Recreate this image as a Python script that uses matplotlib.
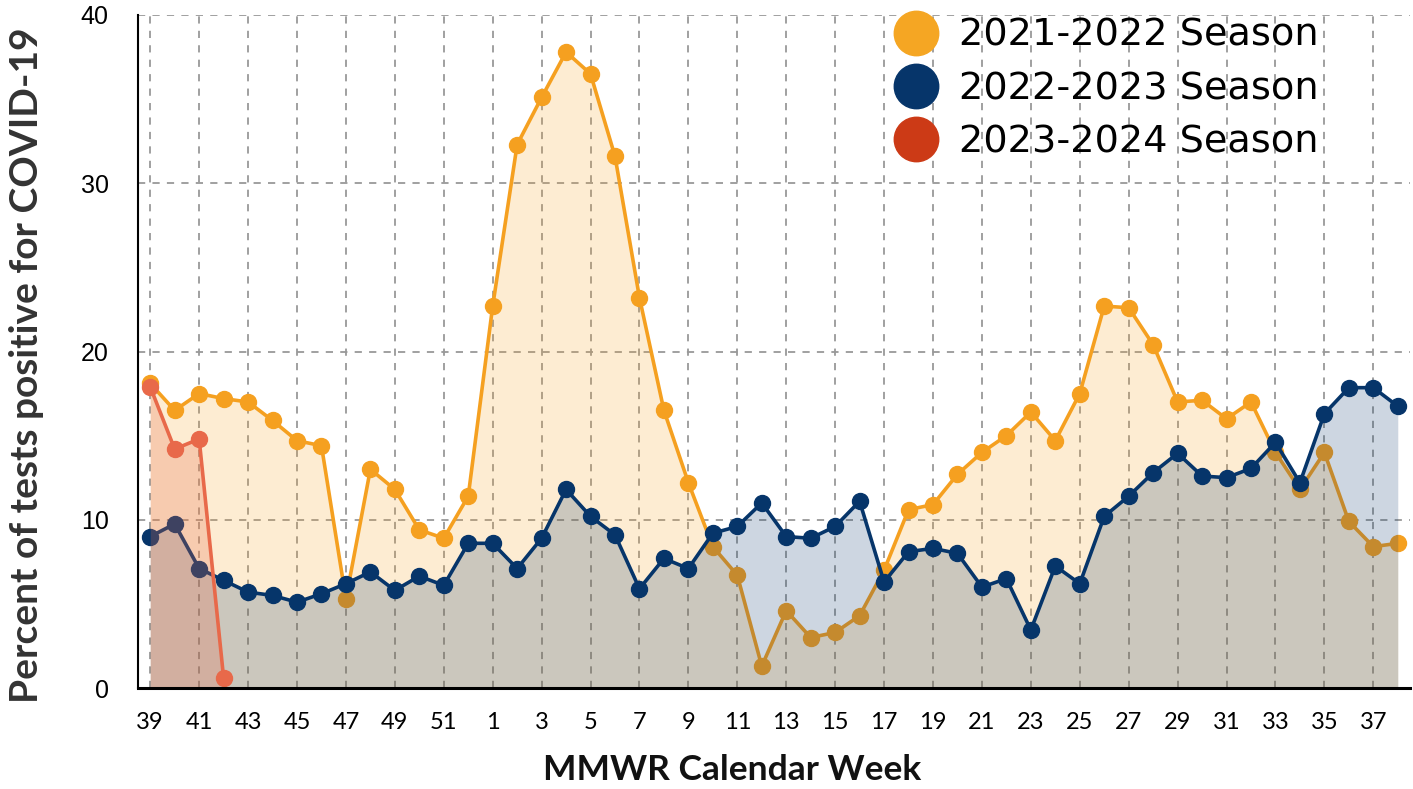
import matplotlib
matplotlib.use("Agg")
import matplotlib.pyplot as plt
from matplotlib.lines import Line2D
import numpy as np

weeks = [39, 40, 41, 42, 43, 44, 45, 46, 47, 48, 49, 50, 51, 52] + list(range(1, 39))
week_labels = [str(w) for w in weeks]

season_2122 = [18.1, 16.5, 17.5, 17.2, 17.0, 15.9, 14.7, 14.4, 5.3, 13.0, 11.8, 9.4, 8.9, 11.4,
               22.7, 32.3, 35.1, 37.8, 36.5, 31.6, 23.2, 16.5, 12.2, 8.4, 6.7, 1.3, 4.6, 3.0,
               3.3, 4.3, 7.0, 10.6, 10.9, 12.7, 14.0, 15.0, 16.4, 14.7, 17.5, 22.7, 22.6, 20.4,
               17.0, 17.1, 16.0, 17.0, 14.0, 11.8, 14.0, 9.9, 8.4, 8.6]
season_2223 = [9.0, 9.75, 7.1, 6.4, 5.7, 5.5, 5.1, 5.6, 6.2, 6.9, 5.8, 6.65, 6.1, 8.6,
               8.6, 7.1, 8.9, 11.8, 10.2, 9.1, 5.9, 7.7, 7.1, 9.2, 9.6, 11.0, 9.0, 8.9,
               9.6, 11.1, 6.3, 8.1, 8.3, 8.0, 6.0, 6.5, 3.45, 7.25, 6.2, 10.2, 11.4, 12.8,
               13.95, 12.6, 12.5, 13.05, 14.6, 12.2, 16.3, 17.85, 17.85, 16.75]
season_2324 = [17.9, 14.2, 14.8, 0.6]

series_names = ["2021-2022 Season", "2022-2023 Season", "2023-2024 Season"]
line_colors = ["#F5A020", "#06356A", "#E8694A"]
legend_colors = ["#F5A623", "#06356A", "#CC3A16"]
fill_alphas = [0.2, 0.2, 0.25]

plt.rcParams['font.family'] = ['Lato', 'DejaVu Sans']

W, H = 1413, 789
fig = plt.figure(figsize=(W / 100, H / 100), dpi=100)
ax = fig.add_axes([138 / W, 1 - 688 / H, (1410 - 138) / W, (688 - 15) / H])

x_all = np.arange(len(weeks))
for vals, lc, fa in zip([season_2122, season_2223, season_2324], line_colors, fill_alphas):
    xx = x_all[:len(vals)]
    ax.fill_between(xx, 0, vals, color=lc, alpha=fa, linewidth=0, zorder=2)
    ax.plot(xx, vals, color=lc, linewidth=2.6, marker='o', markersize=11.5, zorder=2)

ax.set_xlim(-0.5, len(weeks) - 0.5)
ax.set_ylim(0, 40)
ax.set_yticks([0, 10, 20, 30, 40])
ax.set_xticks(x_all[::2])
ax.set_xticklabels(week_labels[::2])
ax.tick_params(axis='both', length=0, colors='black')
ax.tick_params(axis='x', pad=17, labelsize=17)
ax.tick_params(axis='y', pad=21, labelsize=18)
for lbl in ax.get_yticklabels():
    lbl.set_family(['Liberation Sans', 'DejaVu Sans'])
ax.grid(True, linestyle=(0, (4, 4)), color='#999999', linewidth=1.3, zorder=0)
ax.set_axisbelow(True)
for s in ['top', 'right']:
    ax.spines[s].set_visible(False)
ax.spines['left'].set_linewidth(1.5)
ax.spines['bottom'].set_linewidth(2.2)

ax.set_xlabel("MMWR Calendar Week", fontsize=25.5, fontweight='bold', color='#111111')
ax.xaxis.set_label_coords(732 / W, 1 - 770 / H, transform=fig.transFigure)
ax.xaxis.label.set_verticalalignment('center')
ax.set_ylabel("Percent of tests positive for COVID-19", fontsize=28, fontweight='bold',
              color='#333333')
ax.yaxis.set_label_coords(27 / W, 1 - 365 / H, transform=fig.transFigure)
ax.yaxis.label.set_verticalalignment('center')
ax.yaxis.label.set_horizontalalignment('center')

handles = [Line2D([0], [0], marker='o', linestyle='none', markersize=32,
                  markerfacecolor=c, markeredgecolor=c) for c in legend_colors]
leg = fig.legend(handles, series_names, loc='upper left',
                 bbox_to_anchor=(894 / W, 1 - 18 / H), bbox_transform=fig.transFigure,
                 frameon=False, handlelength=1.15, handletextpad=0.55, labelspacing=0.45,
                 borderpad=0, borderaxespad=0,
                 prop={'family': ['DejaVu Sans'], 'size': 27.5})

fig.savefig("out.png", dpi=100)
